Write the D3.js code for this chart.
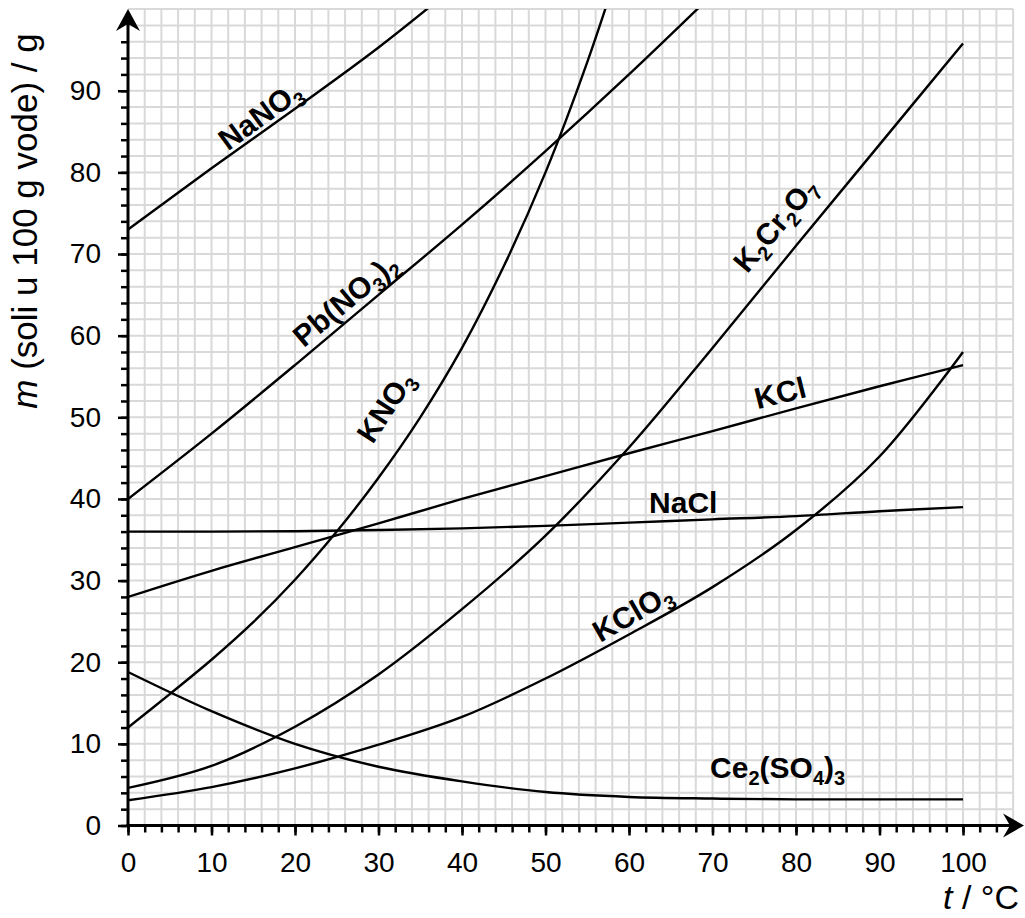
<!DOCTYPE html>
<html>
<head>
<meta charset="utf-8">
<script src="https://cdn.jsdelivr.net/npm/d3@7"></script>
<style>
  body { margin: 0; background: #fff; }
  svg { display: block; font-family: "Liberation Sans", Arial, sans-serif; }
</style>
</head>
<body>
<script>
// temperatures (°C) and solubilities (g per 100 g water)
var temps = [0, 10, 20, 30, 40, 50, 60, 70, 80, 90, 100];
var nacl    = [36, 36, 36.05, 36.2, 36.4, 36.7, 37.1, 37.5, 37.9, 38.5, 39];
var kcl     = [28, 31.2, 34.1, 37, 40, 42.8, 45.6, 48.3, 51.1, 53.8, 56.4];
var k2cr2o7 = [4.6, 7.3, 12.1, 18.5, 26.5, 35.5, 46.3, 58.5, 71, 83.4, 95.8];
var kclo3   = [3.1, 4.7, 7.0, 9.9, 13.3, 18.0, 23.4, 29.2, 36.2, 45.2, 58];
var ce2so43 = [18.8, 14.0, 10.0, 7.2, 5.4, 4.1, 3.5, 3.3, 3.2, 3.2, 3.2];

var tempsNaNO3 = [0, 10, 20, 30, 40];
var nano3      = [73, 80.5, 87.8, 95.3, 103.5];

var tempsPb = [0, 10, 20, 30, 40, 50, 60, 70];
var pbno32  = [40, 48, 56.4, 65, 73.6, 82.6, 92, 101.8];

var tempsKNO3 = [0, 5, 10, 15, 20, 25, 30, 35, 40, 45, 50, 55, 60];
var kno3      = [12, 16.1, 20.3, 24.9, 30.1, 36, 42.6, 50, 58.5, 68.5, 80, 93.5, 109];

var xTicks = [0, 10, 20, 30, 40, 50, 60, 70, 80, 90, 100];
var yTicks = [0, 10, 20, 30, 40, 50, 60, 70, 80, 90];

// series list built from the arrays above
var series = [
  { name: "NaNO_3",       t: tempsNaNO3, m: nano3 },
  { name: "Pb(NO_3)_2",   t: tempsPb,    m: pbno32 },
  { name: "KNO_3",        t: tempsKNO3,  m: kno3 },
  { name: "K_2Cr_2O_7",   t: temps,      m: k2cr2o7 },
  { name: "KCl",          t: temps,      m: kcl },
  { name: "NaCl",         t: temps,      m: nacl },
  { name: "KClO_3",       t: temps,      m: kclo3 },
  { name: "Ce_2(SO_4)_3", t: temps,      m: ce2so43 }
];

// label placement (data units) and rotation
var labelPos = {
  "NaNO_3":       [15.8, 87.0, -36],
  "Pb(NO_3)_2":   [26.0, 64.4, -40],
  "KNO_3":        [30.8, 51.3, -57],
  "K_2Cr_2O_7":   [77.5, 73.6, -50],
  "KCl":          [78.1, 53.0, -14],
  "NaCl":         [66.5, 39.6, 0],
  "KClO_3":       [60.4, 26.1, -30],
  "Ce_2(SO_4)_3": [77.8, 7.1, 0]
};

var width = 1025, height = 918;

var svg = d3.select("body").append("svg")
    .attr("width", width)
    .attr("height", height);

var x = d3.scaleLinear().domain([0, 100]).range([128, 963]);
var y = d3.scaleLinear().domain([0, 100]).range([825.5, 9.1]);

// grid
var grid = svg.append("g").attr("stroke", "#d9d9d9").attr("stroke-width", 2);
grid.selectAll(".v").data(d3.range(2, 107, 2)).enter().append("line")
    .attr("x1", d => x(d)).attr("x2", d => x(d))
    .attr("y1", y(0)).attr("y2", y(100));
grid.selectAll(".h").data(d3.range(2, 101, 2)).enter().append("line")
    .attr("x1", x(0)).attr("x2", x(106))
    .attr("y1", d => y(d)).attr("y2", d => y(d));

// curves, clipped at the top of the grid
svg.append("clipPath").attr("id", "plot")
  .append("rect")
    .attr("x", x(0)).attr("y", y(100))
    .attr("width", x(106) - x(0)).attr("height", y(0) - y(100));

var line = d3.line()
    .x(d => x(d[0]))
    .y(d => y(d[1]))
    .curve(d3.curveCatmullRom.alpha(0.5));

svg.append("g").attr("clip-path", "url(#plot)")
  .selectAll("path")
  .data(series)
  .enter().append("path")
    .attr("d", d => line(d.t.map((t, i) => [t, d.m[i]])))
    .attr("fill", "none")
    .attr("stroke", "#000")
    .attr("stroke-width", 2.4);

// axes: minor and major ticks
function styleAxis(g) {
  g.select(".domain").remove();
  g.attr("font-family", null).attr("font-size", 28);
  g.selectAll("line").attr("stroke", "#000").attr("stroke-width", 2.5);
  g.selectAll("text").attr("fill", "#000");
}

svg.append("g").attr("transform", "translate(" + x(0) + ",0)")
  .call(d3.axisLeft(y).tickValues(d3.range(0, 97, 2)).tickSize(7).tickFormat(""))
  .call(styleAxis);
svg.append("g").attr("transform", "translate(" + x(0) + ",0)")
  .call(d3.axisLeft(y).tickValues(yTicks).tickSize(10).tickPadding(17))
  .call(styleAxis);

svg.append("g").attr("transform", "translate(0," + y(0) + ")")
  .call(d3.axisBottom(x).tickValues(d3.range(0, 105, 2)).tickSize(7).tickFormat(""))
  .call(styleAxis);
svg.append("g").attr("transform", "translate(0," + y(0) + ")")
  .call(d3.axisBottom(x).tickValues(xTicks).tickSize(10).tickPadding(17))
  .call(styleAxis);

// axis lines with arrows
svg.append("line")
    .attr("x1", x(0)).attr("x2", x(0))
    .attr("y1", y(0) + 1.2).attr("y2", 24)
    .attr("stroke", "#000").attr("stroke-width", 3);
svg.append("line")
    .attr("x1", x(0) - 1.5).attr("x2", 1012)
    .attr("y1", y(0)).attr("y2", y(0))
    .attr("stroke", "#000").attr("stroke-width", 3);

var ax = x(0), ay = y(0);
svg.append("path")
    .attr("d", "M" + ax + ",9L" + (ax + 12) + ",31L" + ax + ",24L" + (ax - 12) + ",31Z")
    .attr("fill", "#000");
svg.append("path")
    .attr("d", "M1024," + ay + "L1003," + (ay - 12) + "L1010," + ay + "L1003," + (ay + 12) + "Z")
    .attr("fill", "#000");

// axis titles
var yTitle = svg.append("text")
    .attr("transform", "translate(37,221) rotate(-90)")
    .attr("text-anchor", "middle")
    .attr("font-size", 35);
yTitle.append("tspan").attr("font-style", "italic").text("m");
yTitle.append("tspan").text(" (soli u 100 g vode) / g");

var xTitle = svg.append("text")
    .attr("x", 1019).attr("y", 909)
    .attr("text-anchor", "end")
    .attr("font-size", 34);
xTitle.append("tspan").attr("font-style", "italic").text("t");
xTitle.append("tspan").text(" / °C");

// formula labels with subscripts
function formula(textSel, str) {
  var parts = str.split(/_(\d)/);
  var shifted = false;
  parts.forEach(function(p, i) {
    if (p === "") return;
    var sub = i % 2 === 1;
    var ts = textSel.append("tspan").text(p);
    if (sub) {
      ts.attr("font-size", 20).attr("dy", 7);
      shifted = true;
    } else if (shifted) {
      ts.attr("dy", -7);
      shifted = false;
    }
  });
}

series.forEach(function(s) {
  var p = labelPos[s.name];
  var t = svg.append("text")
      .attr("transform", "translate(" + x(p[0]) + "," + y(p[1]) + ") rotate(" + p[2] + ")")
      .attr("text-anchor", "middle")
      .attr("y", 10.5)
      .attr("font-size", 30)
      .attr("font-weight", "bold");
  formula(t, s.name);
});
</script>
</body>
</html>
